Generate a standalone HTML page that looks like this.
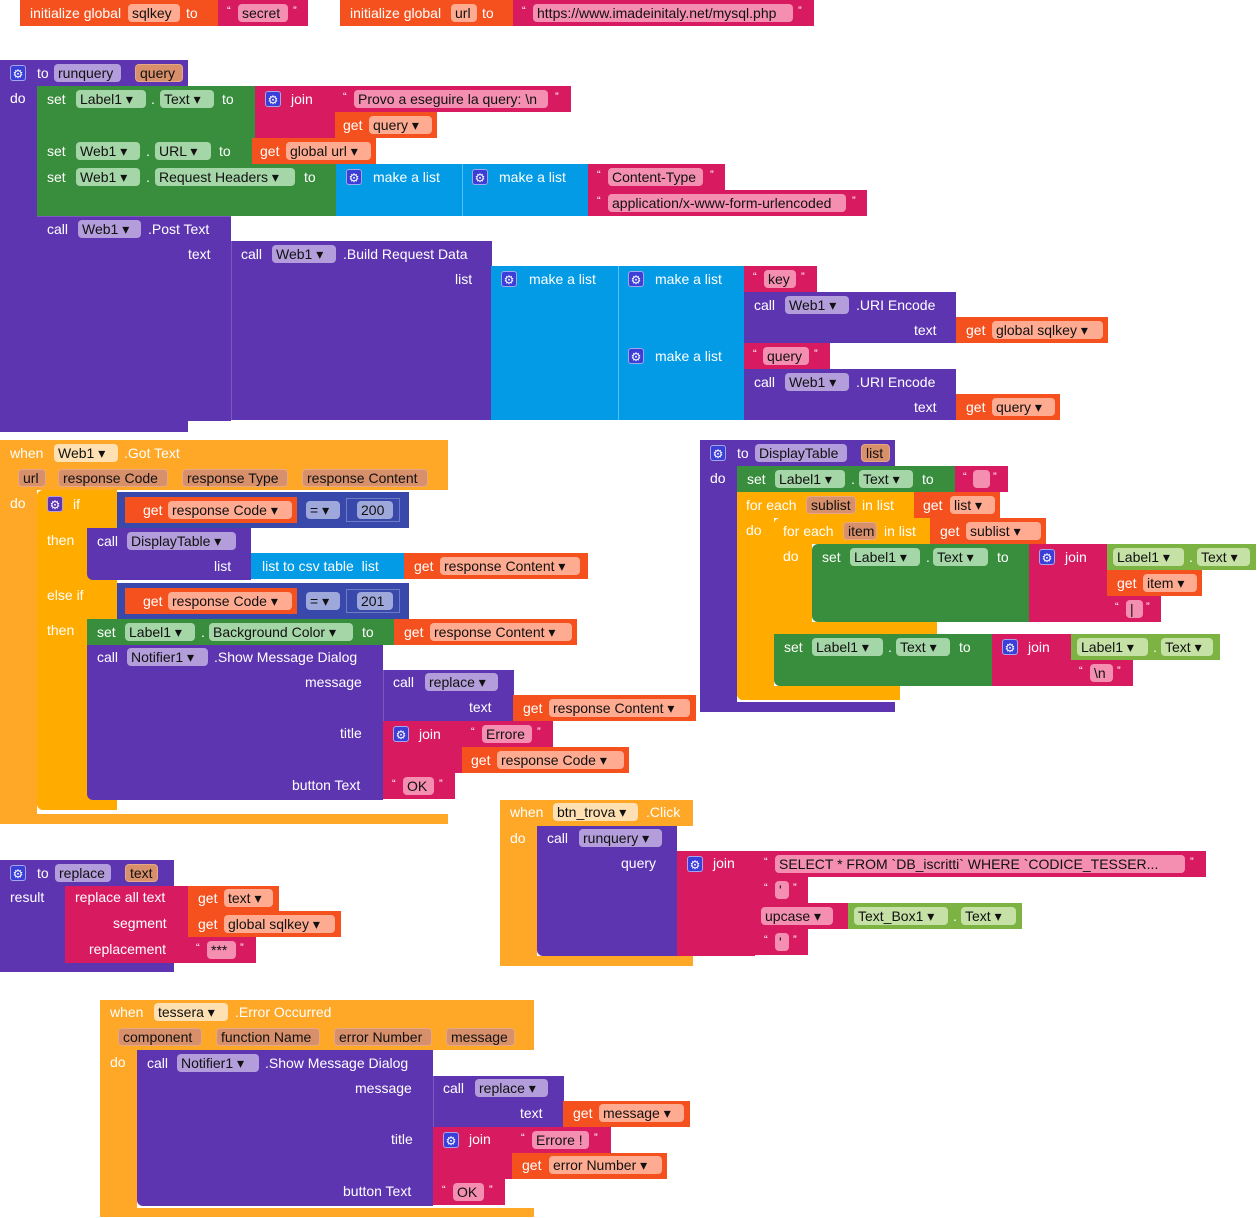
<!DOCTYPE html>
<html><head><meta charset="utf-8"><style>
body{margin:0;width:1257px;height:1218px;background:#fff;position:relative;overflow:hidden;font-family:"Liberation Sans",sans-serif}
.b{position:absolute}
.t{position:absolute;color:#fff;font-size:14px;line-height:26px;white-space:nowrap}
.f{position:absolute;height:18px;line-height:18px;border-radius:4px;color:#111;font-size:14px;padding-left:4px;box-sizing:border-box;white-space:nowrap;overflow:hidden}
.g{position:absolute;width:16px;height:16px;border-radius:3px;background:#3b3fd8;color:#fff;font-size:12px;line-height:16px;text-align:center;border:1px solid #fff8;box-sizing:border-box}
.P{background:#5e35b1}.G{background:#388e3c}.LG{background:#7cb342}.K{background:#d81b60}.R{background:#f4511e}.L{background:#039be5}.O{background:#ffa726}.C{background:#ffab00}.N{background:#3949ab}
.fp{background:#b39ddb}.fg{background:#a5d6a7}.flg{background:#c5e1a5}.fr{background:#ffab91}.fk{background:#f48fb1}.fo{background:#ffe0b2}.fn{background:#9fa8da}.pa{background:#d7906a;border:1px solid #e6a884;line-height:16px}
.nb{position:absolute;border:1px solid #6f7bc4;box-sizing:border-box;height:24px}
</style></head><body>

<!-- globals -->
<div class="b R" style="left:20px;top:0;width:198px;height:26px"></div>
<span class="t" style="left:30px;top:0">initialize global</span>
<span class="f fr" style="left:128px;top:4px;width:52px">sqlkey</span>
<span class="t" style="left:186px;top:0">to</span>
<div class="b K" style="left:218px;top:0;width:90px;height:26px"></div>
<span class="t" style="left:227px;top:-2px;font-size:11px">“</span><span class="f fk" style="left:238px;top:4px;width:50px">secret</span><span class="t" style="left:293px;top:-2px;font-size:11px">”</span>

<div class="b R" style="left:340px;top:0;width:173px;height:26px"></div>
<span class="t" style="left:350px;top:0">initialize global</span>
<span class="f fr" style="left:451px;top:4px;width:26px">url</span>
<span class="t" style="left:482px;top:0">to</span>
<div class="b K" style="left:513px;top:0;width:301px;height:26px"></div>
<span class="t" style="left:522px;top:-2px;font-size:11px">“</span><span class="f fk" style="left:533px;top:4px;width:260px">https://www.imadeinitaly.net/mysql.php</span><span class="t" style="left:798px;top:-2px;font-size:11px">”</span>

<!-- runquery -->
<div class="b P" style="left:0;top:60px;width:188px;height:26px"></div>
<div class="b P" style="left:0;top:86px;width:37px;height:346px"></div>
<div class="b P" style="left:0;top:420px;width:188px;height:12px"></div>
<div class="g" style="left:10px;top:65px">⚙</div>
<span class="t" style="left:37px;top:60px">to</span>
<span class="f fp" style="left:54px;top:64px;width:67px">runquery</span>
<span class="f pa" style="left:135px;top:64px;width:48px">query</span>
<span class="t" style="left:10px;top:85px">do</span>

<div class="b G" style="left:37px;top:86px;width:218px;height:52px"></div>
<span class="t" style="left:47px;top:86px">set</span>
<span class="f fg" style="left:76px;top:90px;width:70px">Label1 ▾</span>
<span class="t" style="left:151px;top:86px">.</span>
<span class="f fg" style="left:160px;top:90px;width:54px">Text ▾</span>
<span class="t" style="left:222px;top:86px">to</span>
<div class="b K" style="left:255px;top:86px;width:80px;height:52px"></div>
<div class="g" style="left:265px;top:91px">⚙</div><span class="t" style="left:291px;top:86px">join</span>
<div class="b K" style="left:335px;top:86px;width:236px;height:26px"></div>
<span class="t" style="left:343px;top:84px;font-size:11px">“</span><span class="f fk" style="left:354px;top:90px;width:194px">Provo a eseguire la query: \n</span><span class="t" style="left:555px;top:84px;font-size:11px">”</span>
<div class="b R" style="left:335px;top:112px;width:102px;height:26px"></div>
<span class="t" style="left:343px;top:112px">get</span><span class="f fr" style="left:369px;top:116px;width:63px">query ▾</span>

<div class="b G" style="left:37px;top:138px;width:215px;height:26px"></div>
<span class="t" style="left:47px;top:138px">set</span>
<span class="f fg" style="left:76px;top:142px;width:64px">Web1 ▾</span>
<span class="t" style="left:146px;top:138px">.</span>
<span class="f fg" style="left:155px;top:142px;width:56px">URL ▾</span>
<span class="t" style="left:219px;top:138px">to</span>
<div class="b R" style="left:252px;top:138px;width:124px;height:26px"></div>
<span class="t" style="left:260px;top:138px">get</span><span class="f fr" style="left:286px;top:142px;width:85px">global url ▾</span>

<div class="b G" style="left:37px;top:164px;width:299px;height:52px"></div>
<span class="t" style="left:47px;top:164px">set</span>
<span class="f fg" style="left:76px;top:168px;width:64px">Web1 ▾</span>
<span class="t" style="left:146px;top:164px">.</span>
<span class="f fg" style="left:155px;top:168px;width:140px">Request Headers ▾</span>
<span class="t" style="left:304px;top:164px">to</span>
<div class="b L" style="left:336px;top:164px;width:126px;height:52px"></div>
<div class="g" style="left:346px;top:169px">⚙</div><span class="t" style="left:373px;top:164px">make a list</span>
<div class="b L" style="left:462px;top:164px;width:126px;height:52px;border-left:1px solid #4fc3f7"></div>
<div class="g" style="left:472px;top:169px">⚙</div><span class="t" style="left:499px;top:164px">make a list</span>
<div class="b K" style="left:588px;top:164px;width:137px;height:26px"></div>
<span class="t" style="left:597px;top:162px;font-size:11px">“</span><span class="f fk" style="left:608px;top:168px;width:95px">Content-Type</span><span class="t" style="left:710px;top:162px;font-size:11px">”</span>
<div class="b K" style="left:588px;top:190px;width:279px;height:26px"></div>
<span class="t" style="left:597px;top:188px;font-size:11px">“</span><span class="f fk" style="left:608px;top:194px;width:238px">application/x-www-form-urlencoded</span><span class="t" style="left:852px;top:188px;font-size:11px">”</span>

<div class="b P" style="left:37px;top:216px;width:194px;height:204px;border-top:1px solid #7e57c2"></div>
<span class="t" style="left:47px;top:216px">call</span>
<span class="f fp" style="left:78px;top:220px;width:63px">Web1 ▾</span>
<span class="t" style="left:148px;top:216px">.Post Text</span>
<span class="t" style="left:188px;top:241px">text</span>
<div class="b P" style="left:231px;top:241px;width:260px;height:179px;border-left:1px solid #7e57c2"></div>
<span class="t" style="left:241px;top:241px">call</span>
<span class="f fp" style="left:272px;top:245px;width:64px">Web1 ▾</span>
<span class="t" style="left:343px;top:241px">.Build Request Data</span>
<span class="t" style="left:455px;top:266px">list</span>
<div class="b L" style="left:491px;top:266px;width:127px;height:154px"></div>
<div class="g" style="left:501px;top:271px">⚙</div><span class="t" style="left:529px;top:266px">make a list</span>
<div class="b L" style="left:618px;top:266px;width:126px;height:77px;border-left:1px solid #4fc3f7"></div>
<div class="g" style="left:628px;top:271px">⚙</div><span class="t" style="left:655px;top:266px">make a list</span>
<div class="b L" style="left:618px;top:343px;width:126px;height:77px;border-left:1px solid #4fc3f7;box-sizing:border-box"></div>
<div class="g" style="left:628px;top:348px">⚙</div><span class="t" style="left:655px;top:343px">make a list</span>
<div class="b K" style="left:744px;top:266px;width:73px;height:26px"></div>
<span class="t" style="left:753px;top:264px;font-size:11px">“</span><span class="f fk" style="left:764px;top:270px;width:32px">key</span><span class="t" style="left:801px;top:264px;font-size:11px">”</span>
<div class="b P" style="left:744px;top:292px;width:212px;height:51px"></div>
<span class="t" style="left:754px;top:292px">call</span><span class="f fp" style="left:785px;top:296px;width:64px">Web1 ▾</span><span class="t" style="left:856px;top:292px">.URI Encode</span>
<span class="t" style="left:914px;top:317px">text</span>
<div class="b R" style="left:956px;top:317px;width:152px;height:26px"></div>
<span class="t" style="left:966px;top:317px">get</span><span class="f fr" style="left:992px;top:321px;width:111px">global sqlkey ▾</span>
<div class="b K" style="left:744px;top:343px;width:86px;height:26px"></div>
<span class="t" style="left:753px;top:341px;font-size:11px">“</span><span class="f fk" style="left:763px;top:347px;width:46px">query</span><span class="t" style="left:814px;top:341px;font-size:11px">”</span>
<div class="b P" style="left:744px;top:369px;width:212px;height:51px"></div>
<span class="t" style="left:754px;top:369px">call</span><span class="f fp" style="left:785px;top:373px;width:64px">Web1 ▾</span><span class="t" style="left:856px;top:369px">.URI Encode</span>
<span class="t" style="left:914px;top:394px">text</span>
<div class="b R" style="left:956px;top:394px;width:104px;height:26px"></div>
<span class="t" style="left:966px;top:394px">get</span><span class="f fr" style="left:992px;top:398px;width:63px">query ▾</span>

<!-- Web1.Got Text -->
<div class="b O" style="left:0;top:440px;width:448px;height:50px"></div>
<div class="b O" style="left:0;top:490px;width:37px;height:334px"></div>
<div class="b O" style="left:0;top:814px;width:448px;height:10px"></div>
<span class="t" style="left:10px;top:440px">when</span>
<span class="f fo" style="left:54px;top:444px;width:64px">Web1 ▾</span>
<span class="t" style="left:124px;top:440px">.Got Text</span>
<span class="f pa" style="left:18px;top:469px;width:28px">url</span>
<span class="f pa" style="left:58px;top:469px;width:110px">response Code</span>
<span class="f pa" style="left:182px;top:469px;width:106px">response Type</span>
<span class="f pa" style="left:302px;top:469px;width:126px">response Content</span>
<span class="t" style="left:10px;top:490px">do</span>

<div class="b C" style="left:37px;top:490px;width:80px;height:320px;border-radius:6px 0 0 6px"></div>
<div class="g" style="left:47px;top:496px;background:#5e35b1">⚙</div><span class="t" style="left:73px;top:491px">if</span>
<span class="t" style="left:47px;top:527px">then</span>
<span class="t" style="left:47px;top:582px">else if</span>
<span class="t" style="left:47px;top:617px">then</span>
<div class="b N" style="left:117px;top:492px;width:292px;height:36px"></div>
<div class="b R" style="left:125px;top:497px;width:172px;height:26px"></div>
<span class="t" style="left:143px;top:497px">get</span><span class="f fr" style="left:168px;top:501px;width:124px">response Code ▾</span>
<span class="f fn" style="left:306px;top:501px;width:34px">= ▾</span>
<div class="nb" style="left:346px;top:498px;width:54px"></div>
<span class="f fn" style="left:357px;top:501px;width:36px">200</span>
<div class="b P" style="left:87px;top:528px;width:164px;height:52px;border-radius:0 0 0 6px"></div>
<span class="t" style="left:97px;top:528px">call</span><span class="f fp" style="left:127px;top:532px;width:109px">DisplayTable ▾</span>
<span class="t" style="left:214px;top:553px">list</span>
<div class="b L" style="left:251px;top:553px;width:153px;height:26px"></div>
<span class="t" style="left:262px;top:553px">list to csv table &nbsp;list</span>
<div class="b R" style="left:404px;top:553px;width:184px;height:26px"></div>
<span class="t" style="left:414px;top:553px">get</span><span class="f fr" style="left:440px;top:557px;width:140px">response Content ▾</span>

<div class="b N" style="left:117px;top:583px;width:292px;height:36px"></div>
<div class="b R" style="left:125px;top:588px;width:172px;height:26px"></div>
<span class="t" style="left:143px;top:588px">get</span><span class="f fr" style="left:168px;top:592px;width:124px">response Code ▾</span>
<span class="f fn" style="left:306px;top:592px;width:34px">= ▾</span>
<div class="nb" style="left:346px;top:589px;width:54px"></div>
<span class="f fn" style="left:357px;top:592px;width:36px">201</span>

<div class="b G" style="left:87px;top:619px;width:307px;height:26px"></div>
<span class="t" style="left:97px;top:619px">set</span><span class="f fg" style="left:125px;top:623px;width:70px">Label1 ▾</span><span class="t" style="left:201px;top:619px">.</span><span class="f fg" style="left:209px;top:623px;width:144px">Background Color ▾</span><span class="t" style="left:362px;top:619px">to</span>
<div class="b R" style="left:394px;top:619px;width:183px;height:26px"></div>
<span class="t" style="left:404px;top:619px">get</span><span class="f fr" style="left:430px;top:623px;width:142px">response Content ▾</span>

<div class="b P" style="left:87px;top:645px;width:296px;height:155px;border-radius:0 0 0 6px"></div>
<span class="t" style="left:97px;top:644px">call</span><span class="f fp" style="left:127px;top:648px;width:81px">Notifier1 ▾</span><span class="t" style="left:214px;top:644px">.Show Message Dialog</span>
<span class="t" style="left:305px;top:669px">message</span>
<span class="t" style="left:340px;top:720px">title</span>
<span class="t" style="left:292px;top:772px">button Text</span>
<div class="b P" style="left:383px;top:670px;width:130px;height:52px;border-left:1px solid #7e57c2"></div>
<span class="t" style="left:393px;top:669px">call</span><span class="f fp" style="left:425px;top:673px;width:73px">replace ▾</span>
<span class="t" style="left:469px;top:694px">text</span>
<div class="b R" style="left:513px;top:695px;width:183px;height:26px"></div>
<span class="t" style="left:523px;top:695px">get</span><span class="f fr" style="left:549px;top:699px;width:141px">response Content ▾</span>
<div class="b K" style="left:383px;top:721px;width:79px;height:52px"></div>
<div class="g" style="left:393px;top:726px">⚙</div><span class="t" style="left:419px;top:721px">join</span>
<div class="b K" style="left:462px;top:721px;width:91px;height:26px"></div>
<span class="t" style="left:471px;top:719px;font-size:11px">“</span><span class="f fk" style="left:482px;top:725px;width:50px">Errore</span><span class="t" style="left:537px;top:719px;font-size:11px">”</span>
<div class="b R" style="left:462px;top:747px;width:167px;height:26px"></div>
<span class="t" style="left:471px;top:747px">get</span><span class="f fr" style="left:497px;top:751px;width:127px">response Code ▾</span>
<div class="b K" style="left:383px;top:773px;width:72px;height:26px"></div>
<span class="t" style="left:392px;top:771px;font-size:11px">“</span><span class="f fk" style="left:403px;top:777px;width:31px">OK</span><span class="t" style="left:439px;top:771px;font-size:11px">”</span>

<!-- DisplayTable -->
<div class="b P" style="left:700px;top:440px;width:195px;height:26px"></div>
<div class="b P" style="left:700px;top:466px;width:37px;height:246px"></div>
<div class="b P" style="left:700px;top:702px;width:195px;height:10px"></div>
<div class="g" style="left:710px;top:445px">⚙</div>
<span class="t" style="left:737px;top:440px">to</span>
<span class="f fp" style="left:755px;top:444px;width:92px">DisplayTable</span>
<span class="f pa" style="left:861px;top:444px;width:29px">list</span>
<span class="t" style="left:710px;top:465px">do</span>
<div class="b G" style="left:737px;top:466px;width:218px;height:26px"></div>
<span class="t" style="left:747px;top:466px">set</span><span class="f fg" style="left:775px;top:470px;width:70px">Label1 ▾</span><span class="t" style="left:851px;top:466px">.</span><span class="f fg" style="left:859px;top:470px;width:54px">Text ▾</span><span class="t" style="left:922px;top:466px">to</span>
<div class="b K" style="left:955px;top:466px;width:53px;height:26px"></div>
<span class="t" style="left:963px;top:464px;font-size:11px">“</span><span class="f fk" style="left:973px;top:470px;width:17px"></span><span class="t" style="left:993px;top:464px;font-size:11px">”</span>

<div class="b C" style="left:737px;top:492px;width:177px;height:26px"></div>
<div class="b C" style="left:737px;top:518px;width:37px;height:182px;border-radius:0 0 0 6px"></div>
<div class="b C" style="left:737px;top:686px;width:163px;height:14px;border-radius:0 0 0 6px"></div>
<span class="t" style="left:746px;top:492px">for each</span><span class="f pa" style="left:806px;top:496px;width:50px">sublist</span><span class="t" style="left:862px;top:492px">in list</span>
<div class="b R" style="left:914px;top:492px;width:86px;height:26px"></div>
<span class="t" style="left:923px;top:492px">get</span><span class="f fr" style="left:950px;top:496px;width:45px">list ▾</span>
<span class="t" style="left:746px;top:517px">do</span>

<div class="b C" style="left:774px;top:518px;width:156px;height:26px;border-radius:6px 0 0 0"></div>
<div class="b C" style="left:774px;top:544px;width:38px;height:90px"></div>
<div class="b C" style="left:774px;top:622px;width:163px;height:12px"></div>
<span class="t" style="left:783px;top:518px">for each</span><span class="f pa" style="left:843px;top:522px;width:34px">item</span><span class="t" style="left:884px;top:518px">in list</span>
<div class="b R" style="left:930px;top:518px;width:116px;height:26px"></div>
<span class="t" style="left:940px;top:518px">get</span><span class="f fr" style="left:966px;top:522px;width:75px">sublist ▾</span>
<span class="t" style="left:783px;top:543px">do</span>
<div class="b G" style="left:812px;top:544px;width:217px;height:78px;border-radius:6px 0 0 6px"></div>
<span class="t" style="left:822px;top:544px">set</span><span class="f fg" style="left:850px;top:548px;width:70px">Label1 ▾</span><span class="t" style="left:926px;top:544px">.</span><span class="f fg" style="left:933px;top:548px;width:55px">Text ▾</span><span class="t" style="left:997px;top:544px">to</span>
<div class="b K" style="left:1029px;top:544px;width:78px;height:78px"></div>
<div class="g" style="left:1039px;top:549px">⚙</div><span class="t" style="left:1065px;top:544px">join</span>
<div class="b LG" style="left:1107px;top:544px;width:149px;height:26px"></div>
<span class="f flg" style="left:1113px;top:548px;width:71px">Label1 ▾</span><span class="t" style="left:1189px;top:544px">.</span><span class="f flg" style="left:1197px;top:548px;width:53px">Text ▾</span>
<div class="b R" style="left:1107px;top:570px;width:95px;height:26px"></div>
<span class="t" style="left:1117px;top:570px">get</span><span class="f fr" style="left:1143px;top:574px;width:54px">item ▾</span>
<div class="b K" style="left:1107px;top:596px;width:54px;height:26px"></div>
<span class="t" style="left:1115px;top:594px;font-size:11px">“</span><span class="f fk" style="left:1126px;top:600px;width:17px">|</span><span class="t" style="left:1146px;top:594px;font-size:11px">”</span>

<div class="b G" style="left:774px;top:634px;width:218px;height:52px;border-radius:0 0 0 6px"></div>
<span class="t" style="left:784px;top:634px">set</span><span class="f fg" style="left:812px;top:638px;width:71px">Label1 ▾</span><span class="t" style="left:888px;top:634px">.</span><span class="f fg" style="left:896px;top:638px;width:54px">Text ▾</span><span class="t" style="left:959px;top:634px">to</span>
<div class="b K" style="left:992px;top:634px;width:79px;height:52px"></div>
<div class="g" style="left:1002px;top:639px">⚙</div><span class="t" style="left:1028px;top:634px">join</span>
<div class="b LG" style="left:1071px;top:634px;width:149px;height:26px"></div>
<span class="f flg" style="left:1077px;top:638px;width:71px">Label1 ▾</span><span class="t" style="left:1153px;top:634px">.</span><span class="f flg" style="left:1161px;top:638px;width:52px">Text ▾</span>
<div class="b K" style="left:1071px;top:660px;width:62px;height:26px"></div>
<span class="t" style="left:1079px;top:658px;font-size:11px">“</span><span class="f fk" style="left:1090px;top:664px;width:23px">\n</span><span class="t" style="left:1117px;top:658px;font-size:11px">”</span>

<!-- btn_trova -->
<div class="b O" style="left:500px;top:800px;width:193px;height:26px"></div>
<div class="b O" style="left:500px;top:826px;width:37px;height:140px"></div>
<div class="b O" style="left:500px;top:956px;width:193px;height:10px"></div>
<span class="t" style="left:510px;top:799px">when</span><span class="f fo" style="left:553px;top:803px;width:85px">btn_trova ▾</span><span class="t" style="left:646px;top:799px">.Click</span>
<span class="t" style="left:510px;top:825px">do</span>
<div class="b P" style="left:537px;top:826px;width:140px;height:130px;border-radius:0 0 0 6px"></div>
<span class="t" style="left:547px;top:825px">call</span><span class="f fp" style="left:579px;top:829px;width:83px">runquery ▾</span>
<span class="t" style="left:621px;top:850px">query</span>
<div class="b K" style="left:677px;top:851px;width:78px;height:105px"></div>
<div class="g" style="left:687px;top:856px">⚙</div><span class="t" style="left:713px;top:850px">join</span>
<div class="b K" style="left:755px;top:851px;width:451px;height:26px"></div>
<span class="t" style="left:764px;top:849px;font-size:11px">“</span><span class="f fk" style="left:775px;top:855px;width:410px">SELECT * FROM `DB_iscritti` WHERE `CODICE_TESSER...</span><span class="t" style="left:1190px;top:849px;font-size:11px">”</span>
<div class="b K" style="left:755px;top:877px;width:53px;height:26px"></div>
<span class="t" style="left:764px;top:875px;font-size:11px">“</span><span class="f fk" style="left:775px;top:881px;width:14px">'</span><span class="t" style="left:793px;top:875px;font-size:11px">”</span>
<div class="b K" style="left:755px;top:903px;width:93px;height:26px"></div>
<span class="f fk" style="left:761px;top:907px;width:72px">upcase ▾</span>
<div class="b LG" style="left:848px;top:903px;width:174px;height:26px"></div>
<span class="f flg" style="left:854px;top:907px;width:94px">Text_Box1 ▾</span><span class="t" style="left:953px;top:903px">.</span><span class="f flg" style="left:961px;top:907px;width:55px">Text ▾</span>
<div class="b K" style="left:755px;top:929px;width:53px;height:26px"></div>
<span class="t" style="left:764px;top:927px;font-size:11px">“</span><span class="f fk" style="left:775px;top:933px;width:14px">'</span><span class="t" style="left:793px;top:927px;font-size:11px">”</span>

<!-- replace procedure -->
<div class="b P" style="left:0;top:860px;width:174px;height:26px"></div>
<div class="b P" style="left:0;top:886px;width:65px;height:86px"></div>
<div class="b P" style="left:0;top:962px;width:174px;height:10px"></div>
<div class="g" style="left:10px;top:865px">⚙</div>
<span class="t" style="left:37px;top:860px">to</span>
<span class="f fp" style="left:55px;top:864px;width:56px">replace</span>
<span class="f pa" style="left:125px;top:864px;width:33px">text</span>
<span class="t" style="left:10px;top:884px">result</span>
<div class="b K" style="left:65px;top:886px;width:123px;height:77px"></div>
<span class="t" style="left:75px;top:884px">replace all text</span>
<span class="t" style="left:113px;top:910px">segment</span>
<span class="t" style="left:89px;top:936px">replacement</span>
<div class="b R" style="left:188px;top:886px;width:91px;height:25px"></div>
<span class="t" style="left:198px;top:885px">get</span><span class="f fr" style="left:224px;top:889px;width:49px">text ▾</span>
<div class="b R" style="left:188px;top:911px;width:153px;height:26px"></div>
<span class="t" style="left:198px;top:911px">get</span><span class="f fr" style="left:224px;top:915px;width:111px">global sqlkey ▾</span>
<div class="b K" style="left:188px;top:937px;width:68px;height:26px"></div>
<span class="t" style="left:196px;top:935px;font-size:11px">“</span><span class="f fk" style="left:207px;top:941px;width:29px">***</span><span class="t" style="left:240px;top:935px;font-size:11px">”</span>

<!-- tessera -->
<div class="b O" style="left:100px;top:1000px;width:434px;height:50px"></div>
<div class="b O" style="left:100px;top:1050px;width:37px;height:166px"></div>
<div class="b O" style="left:100px;top:1208px;width:434px;height:9px"></div>
<span class="t" style="left:110px;top:999px">when</span><span class="f fo" style="left:154px;top:1003px;width:74px">tessera ▾</span><span class="t" style="left:235px;top:999px">.Error Occurred</span>
<span class="f pa" style="left:118px;top:1028px;width:84px">component</span>
<span class="f pa" style="left:216px;top:1028px;width:104px">function Name</span>
<span class="f pa" style="left:334px;top:1028px;width:98px">error Number</span>
<span class="f pa" style="left:446px;top:1028px;width:69px">message</span>
<span class="t" style="left:110px;top:1049px">do</span>
<div class="b P" style="left:137px;top:1050px;width:296px;height:156px;border-radius:0 0 0 6px"></div>
<span class="t" style="left:147px;top:1050px">call</span><span class="f fp" style="left:177px;top:1054px;width:82px">Notifier1 ▾</span><span class="t" style="left:265px;top:1050px">.Show Message Dialog</span>
<span class="t" style="left:355px;top:1075px">message</span>
<span class="t" style="left:391px;top:1126px">title</span>
<span class="t" style="left:343px;top:1178px">button Text</span>
<div class="b P" style="left:433px;top:1076px;width:130px;height:51px;border-left:1px solid #7e57c2"></div>
<span class="t" style="left:443px;top:1075px">call</span><span class="f fp" style="left:475px;top:1079px;width:73px">replace ▾</span>
<span class="t" style="left:520px;top:1100px">text</span>
<div class="b R" style="left:563px;top:1101px;width:127px;height:26px"></div>
<span class="t" style="left:573px;top:1100px">get</span><span class="f fr" style="left:599px;top:1104px;width:85px">message ▾</span>
<div class="b K" style="left:433px;top:1127px;width:79px;height:52px"></div>
<div class="g" style="left:443px;top:1132px">⚙</div><span class="t" style="left:469px;top:1126px">join</span>
<div class="b K" style="left:512px;top:1127px;width:99px;height:26px"></div>
<span class="t" style="left:521px;top:1125px;font-size:11px">“</span><span class="f fk" style="left:532px;top:1131px;width:57px">Errore !</span><span class="t" style="left:594px;top:1125px;font-size:11px">”</span>
<div class="b R" style="left:512px;top:1153px;width:155px;height:26px"></div>
<span class="t" style="left:522px;top:1152px">get</span><span class="f fr" style="left:549px;top:1156px;width:113px">error Number ▾</span>
<div class="b K" style="left:433px;top:1179px;width:72px;height:26px"></div>
<span class="t" style="left:442px;top:1177px;font-size:11px">“</span><span class="f fk" style="left:453px;top:1183px;width:31px">OK</span><span class="t" style="left:489px;top:1177px;font-size:11px">”</span>

</body></html>
